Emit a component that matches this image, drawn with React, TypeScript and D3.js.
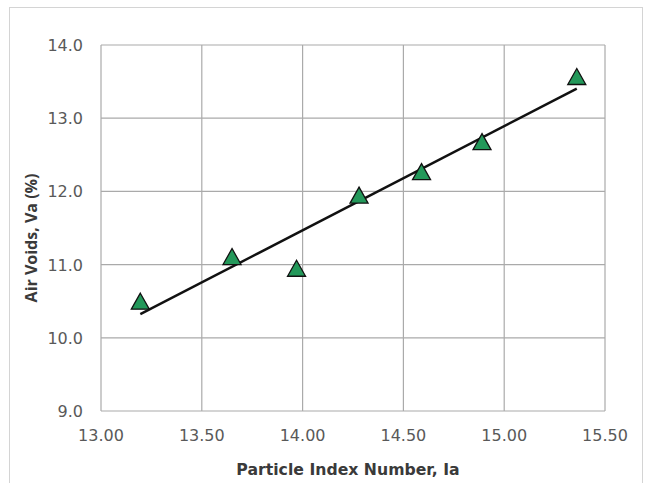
import React, { useEffect, useRef } from "react";
import * as d3 from "d3";

// values
const particleIndex = [13.195, 13.65, 13.97, 14.28, 14.59, 14.89, 15.36];
const airVoids = [10.5, 11.11, 10.95, 11.95, 12.27, 12.68, 13.57];
const xTicks = [13.0, 13.5, 14.0, 14.5, 15.0, 15.5];
const yTicks = [9.0, 10.0, 11.0, 12.0, 13.0, 14.0];

const W = 647;
const H = 483;
const M = { top: 45, right: 42, bottom: 72, left: 101 };

export default function App() {
  const ref = useRef<SVGSVGElement>(null);

  useEffect(() => {
    const svg = d3.select(ref.current);
    svg.selectAll("*").remove();

    const x = d3.scaleLinear().domain([13, 15.5]).range([M.left, W - M.right]);
    const y = d3.scaleLinear().domain([9, 14]).range([H - M.bottom, M.top]);

    // chart frame
    svg.append("rect")
      .attr("x", 9.5).attr("y", 7.5)
      .attr("width", 633).attr("height", 490)
      .attr("fill", "#fff")
      .attr("stroke", "#d4d4d4");

    const grid = svg.append("g").attr("stroke", "#aaaaaa").attr("stroke-width", 1.2);
    grid.selectAll("line.v").data(xTicks).join("line")
      .attr("x1", d => x(d)).attr("x2", d => x(d))
      .attr("y1", y(9)).attr("y2", y(14));
    grid.selectAll("line.h").data(yTicks).join("line")
      .attr("x1", x(13)).attr("x2", x(15.5))
      .attr("y1", d => y(d)).attr("y2", d => y(d));

    // tick labels
    svg.append("g").selectAll("text").data(xTicks).join("text")
      .attr("x", d => x(d)).attr("y", H - M.bottom + 30)
      .attr("text-anchor", "middle")
      .attr("font-family", "DejaVu Sans").attr("font-size", 16)
      .attr("fill", "#595959")
      .text(d => d.toFixed(2));
    svg.append("g").selectAll("text").data(yTicks).join("text")
      .attr("x", M.left - 18).attr("y", d => y(d) + 6)
      .attr("text-anchor", "end")
      .attr("font-family", "DejaVu Sans").attr("font-size", 16)
      .attr("fill", "#595959")
      .text(d => d.toFixed(1));

    // axis titles
    svg.append("text")
      .attr("x", 348).attr("y", 475)
      .attr("text-anchor", "middle")
      .attr("font-family", "DejaVu Sans").attr("font-weight", "bold").attr("font-size", 15.7)
      .attr("fill", "#3a3a3a")
      .text("Particle Index Number, Ia");
    svg.append("text")
      .attr("transform", "translate(37,238) rotate(-90)")
      .attr("text-anchor", "middle")
      .attr("font-family", "Open Sans").attr("font-weight", "bold").attr("font-size", 16)
      .attr("fill", "#3a3a3a")
      .text("Air Voids, Va (%)");

    // linear trendline (least squares)
    const pts = particleIndex.map((v, i) => [v, airVoids[i]] as [number, number]);
    const mx = d3.mean(particleIndex)!;
    const my = d3.mean(airVoids)!;
    const slope = d3.sum(pts, p => (p[0] - mx) * (p[1] - my)) / d3.sum(pts, p => (p[0] - mx) ** 2);
    const icpt = my - slope * mx;
    const [x0, x1] = d3.extent(particleIndex) as [number, number];
    svg.append("path")
      .attr("d", d3.line()([[x(x0), y(icpt + slope * x0)], [x(x1), y(icpt + slope * x1)]]))
      .attr("stroke", "#111").attr("stroke-width", 2.5).attr("fill", "none");

    // triangle markers
    const tw = 18, th = 16;
    svg.append("g").selectAll("path").data(pts).join("path")
      .attr("transform", d => `translate(${x(d[0])},${y(d[1])})`)
      .attr("d", `M0,${-th / 2}L${tw / 2},${th / 2}L${-tw / 2},${th / 2}Z`)
      .attr("fill", "#23985a")
      .attr("stroke", "#111")
      .attr("stroke-width", 1.3);
  }, []);

  return (
    <svg ref={ref} width={W} height={H}
      style={{ position: "absolute", left: 0, top: 0, background: "#fff" }} />
  );
}
